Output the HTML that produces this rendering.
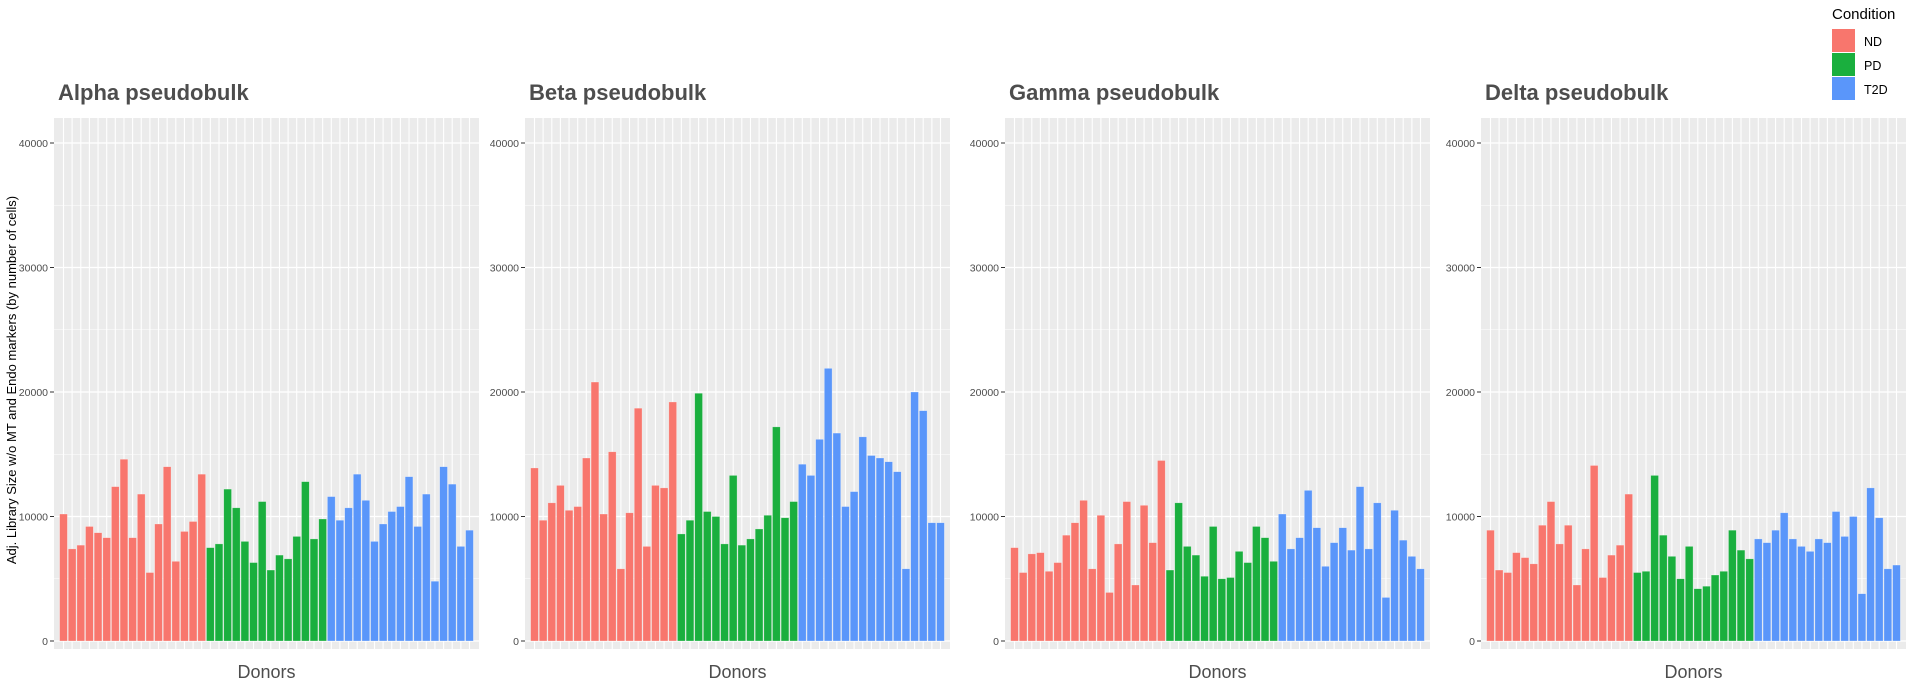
<!DOCTYPE html>
<html><head><meta charset="utf-8">
<style>
html,body{margin:0;padding:0;background:#fff;width:1913px;height:685px;overflow:hidden}
svg{display:block;font-family:"Liberation Sans",Arial,sans-serif}
</style></head>
<body>
<svg id="chart" width="1913" height="685" viewBox="0 0 1913 685" xmlns="http://www.w3.org/2000/svg">
<text x="0" y="0" transform="translate(16,380) rotate(-90)" text-anchor="middle" font-size="13" fill="#000">Adj. Library Size w/o MT and Endo markers (by number of cells)</text>
<g>
<text x="1832" y="19" font-size="15" fill="#000">Condition</text>
<rect x="1832" y="29" width="23" height="23" fill="#F8766D"/>
<text x="1864" y="46" font-size="12.5" fill="#000">ND</text>
<rect x="1832" y="53" width="23" height="23" fill="#1AAF3E"/>
<text x="1864" y="70" font-size="12.5" fill="#000">PD</text>
<rect x="1832" y="77" width="23" height="23" fill="#5A96FA"/>
<text x="1864" y="94" font-size="12.5" fill="#000">T2D</text>
</g>
</svg>
<script>
const panelTitles = ["Alpha pseudobulk","Beta pseudobulk","Gamma pseudobulk","Delta pseudobulk"];
const yTicks = [0,10000,20000,30000,40000];
const yTickLabels = ["0","10000","20000","30000","40000"];
const alphaND = [10200,7400,7700,9200,8700,8300,12400,14600,8300,11800,5500,9400,14000,6400,8800,9600,13400];
const alphaPD = [7500,7800,12200,10700,8000,6300,11200,5700,6900,6600,8400,12800,8200,9800];
const alphaT2D = [11600,9700,10700,13400,11300,8000,9400,10400,10800,13200,9200,11800,4800,14000,12600,7600,8900];
const betaND = [13900,9700,11100,12500,10500,10800,14700,20800,10200,15200,5800,10300,18700,7600,12500,12300,19200];
const betaPD = [8600,9700,19900,10400,10000,7800,13300,7700,8200,9000,10100,17200,9900,11200];
const betaT2D = [14200,13300,16200,21900,16700,10800,12000,16400,14900,14700,14400,13600,5800,20000,18500,9500,9500];
const gammaND = [7500,5500,7000,7100,5600,6300,8500,9500,11300,5800,10100,3900,7800,11200,4500,10900,7900,14500];
const gammaPD = [5700,11100,7600,6900,5200,9200,5000,5100,7200,6300,9200,8300,6400];
const gammaT2D = [10200,7400,8300,12100,9100,6000,7900,9100,7300,12400,7400,11100,3500,10500,8100,6800,5800];
const deltaND = [8900,5700,5500,7100,6700,6200,9300,11200,7800,9300,4500,7400,14100,5100,6900,7700,11800];
const deltaPD = [5500,5600,13300,8500,6800,5000,7600,4200,4400,5300,5600,8900,7300,6600];
const deltaT2D = [8200,7900,8900,10300,8200,7600,7200,8200,7900,10400,8400,10000,3800,12300,9900,5800,6100];

const seriesByPanel = [[alphaND,alphaPD,alphaT2D],[betaND,betaPD,betaT2D],[gammaND,gammaPD,gammaT2D],[deltaND,deltaPD,deltaT2D]];
const colors = ["#F8766D","#1AAF3E","#5A96FA"];
const condNames = ["nd","pd","t2d"];
const panelLefts = [54,525,1005,1481];
const panelW = 425, panelTop = 118, panelBottom = 649;
const yZero = 641, yMax = 143;
const NS = "http://www.w3.org/2000/svg";
const svg = document.getElementById("chart");
function yScale(v){ return yZero - (v/40000)*(yZero-yMax); }
function mk(tag, attrs, parent){ const e=document.createElementNS(NS,tag); for(const k in attrs) e.setAttribute(k,attrs[k]); (parent||svg).appendChild(e); return e; }

panelTitles.forEach((title,p)=>{
  const left = panelLefts[p];
  const g = mk("g",{});
  
  
  const bg = mk("rect",{x:left,y:panelTop,width:panelW,height:panelBottom-panelTop,fill:"#EBEBEB"},g);
  
  
  // minor grid
  for(let v=5000; v<40000+5000; v+=10000){
    const y=yScale(v); if(y<panelTop) continue;
    const l=mk("line",{x1:left,x2:left+panelW,y1:y,y2:y,stroke:"#fff","stroke-width":0.6},g);
    
    
  }
  const all = [].concat(...seriesByPanel[p]);
  const n = all.length;
  const unit = panelW/(n+1.2);
  function xCenter(i){ return left + unit*(0.6+i+0.5); }
  for(let i=0;i<n;i++){
    const l=mk("line",{x1:xCenter(i),x2:xCenter(i),y1:panelTop,y2:panelBottom,stroke:"#fff","stroke-width":1.1},g);
    
    
  }
  yTicks.forEach((v,k)=>{
    const y=yScale(v);
    const l=mk("line",{x1:left,x2:left+panelW,y1:y,y2:y,stroke:"#fff","stroke-width":1.2},g);
    
    
    const t=mk("line",{x1:left-4,x2:left,y1:y,y2:y,stroke:"#333","stroke-width":1},g);
    
    
    const tx=mk("text",{x:left-6,y:y+4,"text-anchor":"end","font-size":"10.5",fill:"#4D4D4D"},g);
    tx.textContent = yTickLabels[k];
    
    
  });
  let idx=0;
  seriesByPanel[p].forEach((arr,s)=>{
    arr.forEach(v=>{
      const xc=xCenter(idx), w=unit*0.9, y=yScale(v);
      const r=mk("rect",{x:xc-w/2,y:y,width:w,height:yZero-y,fill:colors[s],stroke:"rgba(255,255,255,0.45)","stroke-width":0.6},g);
      
      
      idx++;
    });
  });
  const tt=mk("text",{x:left+4,y:100,"font-size":"22","font-weight":"bold",fill:"#4D4D4D"},g);
  tt.textContent=title;
  
  
  const xl=mk("text",{x:left+panelW/2,y:678,"text-anchor":"middle","font-size":"18",fill:"#4D4D4D"},g);
  xl.textContent="Donors";
  
  
});
</script>
</body></html>
